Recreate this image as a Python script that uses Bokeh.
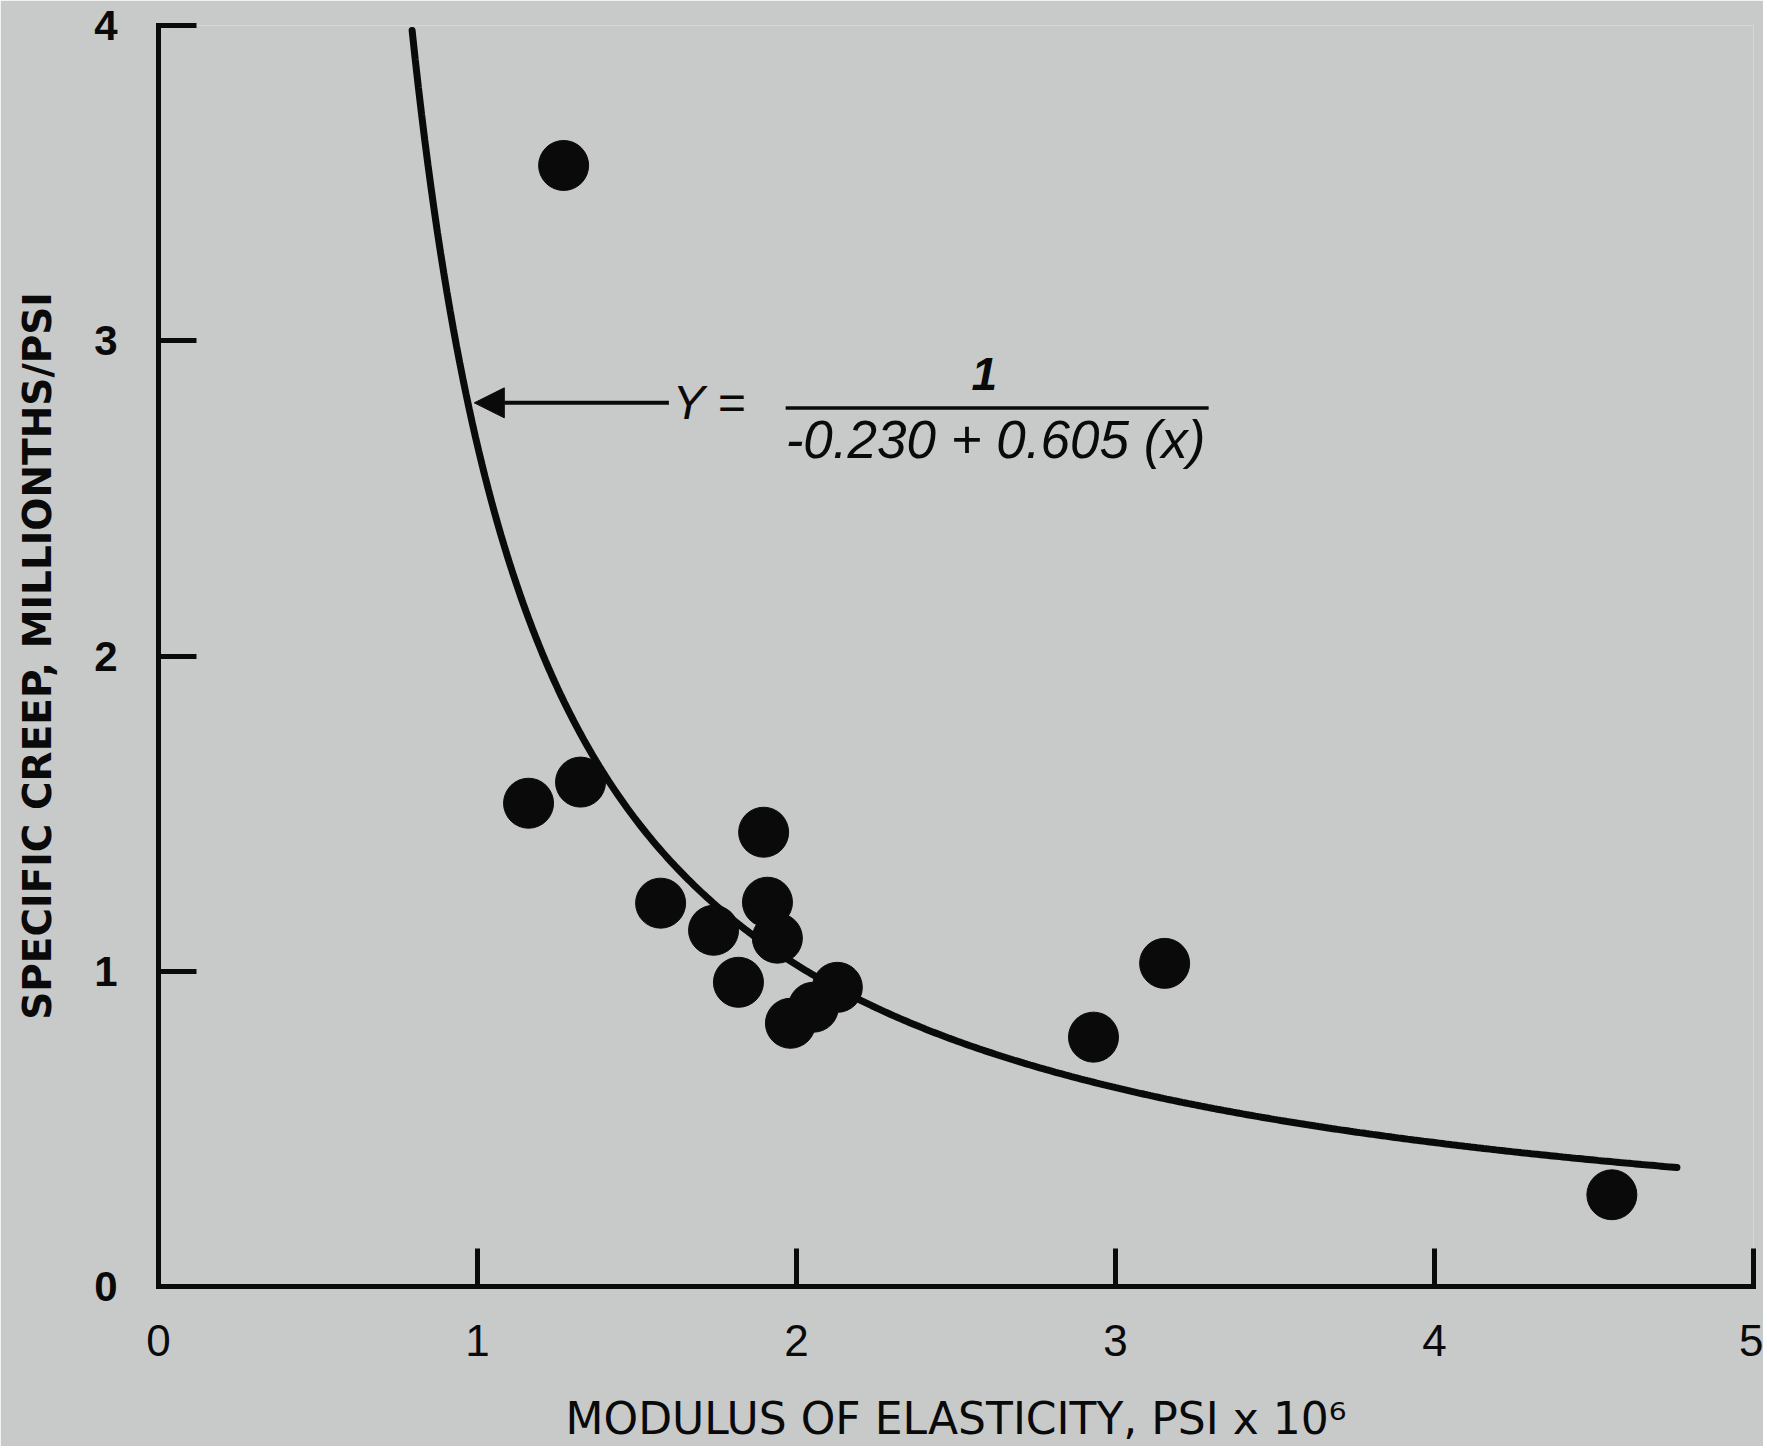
from bokeh.plotting import figure
from bokeh.models import Range1d, FixedTicker, Arrow, NormalHead, Label
from bokeh.embed import file_html
from bokeh.resources import INLINE
import numpy as np

# Data points
modulus = [1.270, 1.160, 1.323, 1.897, 1.574, 1.909, 1.740, 1.940, 1.818,
           1.981, 2.053, 2.128, 2.931, 3.154, 4.556]
creep = [3.556, 1.533, 1.600, 1.441, 1.216, 1.219, 1.130, 1.105, 0.965,
         0.835, 0.886, 0.949, 0.791, 1.025, 0.291]

# Fitted curve shown on the chart: Y = 1 / (a + b x)
fit_a = -0.230
fit_b = 0.605
fit_x_start = 0.795
fit_x_end = 4.76

x_ticks = [0, 1, 2, 3, 4, 5]
y_ticks = [0, 1, 2, 3, 4]

x_title = "MODULUS OF ELASTICITY, PSI x 10\u2076"
y_title = "SPECIFIC CREEP, MILLIONTHS/PSI"
eq_lhs = "Y ="
eq_num = "1"
eq_den = "-0.230 + 0.605 (x)"

BG = "#c8c9c9"
INK = "#0a0a0a"

p = figure(frame_width=1595, frame_height=1261,
           x_range=Range1d(0, 5), y_range=Range1d(0, 4),
           output_backend="svg", toolbar_location=None,
           min_border_left=158, min_border_top=25, min_border_right=10,
           min_border_bottom=150,
           background_fill_color=BG, border_fill_color=BG,
           outline_line_color=None)
p.grid.visible = False

# curve
fit_x = np.linspace(fit_x_start, fit_x_end, 400)
fit_y = 1.0 / (fit_a + fit_b * fit_x)
p.line(fit_x, fit_y, line_color=INK, line_width=7, line_cap="round")

# points
p.scatter(modulus, creep, marker="circle", size=50, fill_color=INK, line_color=INK)

# axes
for ax in (p.xaxis[0], p.yaxis[0]):
    ax.axis_line_width = 5
    ax.axis_line_color = INK
    ax.axis_line_cap = "square"
    ax.major_tick_line_width = 5
    ax.major_tick_line_color = INK
    ax.major_tick_in = 38
    ax.major_tick_out = 0
    ax.minor_tick_line_color = None
    ax.major_label_text_color = INK
    ax.axis_label_text_color = INK
    ax.major_label_text_font = "Liberation Sans"
    ax.axis_label_text_font = "DejaVu Sans"
    ax.axis_label_text_font_style = "normal"

p.xaxis[0].ticker = FixedTicker(ticks=x_ticks)
p.yaxis[0].ticker = FixedTicker(ticks=y_ticks)

p.xaxis[0].major_label_text_font_size = "44px"
p.xaxis[0].major_label_standoff = 38
p.xaxis[0].axis_label = x_title
p.xaxis[0].axis_label_text_font_size = "44px"
p.xaxis[0].axis_label_standoff = 34

p.yaxis[0].major_label_text_font_size = "42px"
p.yaxis[0].major_label_text_font_style = "bold"
p.yaxis[0].major_label_standoff = 41
p.yaxis[0].axis_label = y_title
p.yaxis[0].axis_label_text_font_size = "39px"
p.yaxis[0].axis_label_text_font_style = "bold"
p.yaxis[0].axis_label_standoff = 31

# equation annotation
arrow_y = 2.803
p.add_layout(Arrow(end=NormalHead(size=30, fill_color=INK, line_color=INK),
                   x_start=1.60, y_start=arrow_y, x_end=0.99, y_end=arrow_y,
                   line_width=4, line_color=INK))
p.add_layout(Label(x=1.612, y=arrow_y, text=eq_lhs, text_font="Liberation Sans",
                   text_font_style="italic", text_font_size="48px",
                   text_baseline="middle", text_align="left", text_color=INK))
p.segment(x0=[1.966], y0=[2.787], x1=[3.292], y1=[2.787], line_color=INK, line_width=3.5)
p.add_layout(Label(x=2.589, y=2.895, text=eq_num, text_font="Liberation Sans",
                   text_font_style="bold italic", text_font_size="46px",
                   text_baseline="middle", text_align="center", text_color=INK))
p.add_layout(Label(x=2.624, y=2.686, text=eq_den, text_font="Liberation Sans",
                   text_font_style="italic", text_font_size="53px",
                   text_baseline="middle", text_align="center", text_color=INK))

open("out.html", "w").write(file_html(p, INLINE))
